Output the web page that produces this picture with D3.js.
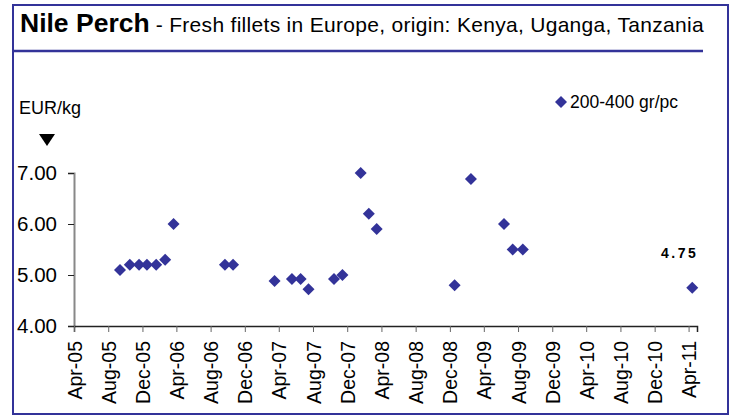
<!DOCTYPE html>
<html>
<head>
<meta charset="utf-8">
<script src="https://cdn.jsdelivr.net/npm/d3@7"></script>
<style>
  body { margin: 0; background: #fff; }
  svg { font-family: Arial, "Liberation Sans", sans-serif; }
</style>
</head>
<body>
<div id="chart"></div>
<script>
// price observations (EUR/kg), 200-400 gr/pc fillets
const obsDates = ["2005-09-12", "2005-10-17", "2005-11-19", "2005-12-17", "2006-01-19", "2006-02-20", "2006-03-22",
    "2006-09-21", "2006-10-20",
    "2007-03-17", "2007-05-18", "2007-06-18", "2007-07-16", "2007-10-15", "2007-11-14",
    "2008-01-18", "2008-02-16", "2008-03-15",
    "2008-12-18", "2009-02-14", "2009-06-12", "2009-07-13", "2009-08-18",
    "2011-04-14"]
const obsPrices = [5.10, 5.20, 5.20, 5.20, 5.20, 5.30, 6.00,
    5.20, 5.20,
    4.88, 4.92, 4.92, 4.72, 4.92, 5.00,
    7.00, 6.20, 5.90,
    4.80, 6.88, 6.00, 5.50, 5.50,
    4.75]
const xTickLabels = ["Apr-05", "Aug-05", "Dec-05", "Apr-06", "Aug-06", "Dec-06", "Apr-07", "Aug-07", "Dec-07",
    "Apr-08", "Aug-08", "Dec-08", "Apr-09", "Aug-09", "Dec-09", "Apr-10", "Aug-10", "Dec-10", "Apr-11"]
const yTicks = [4, 5, 6, 7]
const seriesName = "200-400 gr/pc"
const lastLabel = "4.75"

const width = 733
const height = 417
const frameColor = "#333399"
const pointColor = "#333399"

const parseDay = d3.timeParse("%Y-%m-%d")
const parseTick = d3.timeParse("%b-%y")

const svg = d3.select("#chart").append("svg")
    .attr("width", width)
    .attr("height", height)

//frame + title underline
svg.append("rect")
    .attr("x", 13).attr("y", 5)
    .attr("width", 715).attr("height", 409)
    .attr("fill", "none")
    .attr("stroke", frameColor)
    .attr("stroke-width", 2)
svg.append("line")
    .attr("x1", 13).attr("x2", 703)
    .attr("y1", 51).attr("y2", 51)
    .attr("stroke", frameColor)
    .attr("stroke-width", 2.5)

const title = svg.append("text")
    .attr("x", 20)
    .attr("y", 32)
    .attr("fill", "#000")
title.append("tspan")
    .style("font-weight", "bold")
    .style("font-size", "26.5px")
    .text("Nile Perch")
title.append("tspan")
    .style("font-size", "21px")
    .style("letter-spacing", "0.3px")
    .text(" - Fresh fillets in Europe, origin: Kenya, Uganga, Tanzania")

const x = d3.scaleTime()
    .domain([new Date(2005, 3, 1), new Date(2011, 4, 1)])
    .range([74, 697])
const y = d3.scaleLinear()
    .domain([4, 7])
    .range([326, 173])

// y axis
const yAxis = svg.append("g")
    .attr("transform", `translate(${74}, 0)`)
    .call(d3.axisLeft(y).tickValues(yTicks).tickSize(6).tickPadding(11).tickFormat(d3.format(".2f")))
yAxis.select(".domain").attr("stroke", "#888").attr("stroke-width", 2)
yAxis.selectAll(".tick line").attr("stroke", "#222")
yAxis.selectAll("text")
    .style("font-size", "20.5px")
    .attr("fill", "#000")

// x axis
const xAxis = svg.append("g")
    .attr("transform", `translate(0, ${326})`)
    .call(d3.axisBottom(x)
        .tickValues(xTickLabels.map(parseTick))
        .tickSize(6)
        .tickFormat(d3.timeFormat("%b-%y")))
xAxis.select(".domain").attr("stroke", "#222").attr("stroke-width", 1.5)
xAxis.selectAll(".tick line").attr("stroke", "#666")
xAxis.selectAll("text")
    .style("font-size", "19.5px")
    .attr("fill", "#000")
    .attr("text-anchor", "end")
    .attr("transform", "rotate(-90)")
    .attr("x", -15)
    .attr("y", 0)
    .attr("dy", "0.36em")

// unit label + arrow
svg.append("text")
    .attr("x", 19)
    .attr("y", 114)
    .style("font-size", "18px")
    .text("EUR/kg")
svg.append("path")
    .attr("d", "M39,134 L55,134 L47,146 Z")
    .attr("fill", "#000")

// diamonds
const diamond = d3.symbol().type(d3.symbolSquare).size(72)
svg.append("g")
    .selectAll("path")
    .data(obsDates.map((d, i) => ({ date: parseDay(d), price: obsPrices[i] })))
    .join("path")
    .attr("d", diamond)
    .attr("transform", d => `translate(${x(d.date)}, ${y(d.price)}) rotate(45)`)
    .attr("fill", pointColor)

// last value label
svg.append("text")
    .attr("x", 661)
    .attr("y", 258)
    .style("font-size", "14px")
    .style("font-weight", "bold")
    .style("letter-spacing", "2.5px")
    .text(lastLabel)

// legend
svg.append("path")
    .attr("d", diamond)
    .attr("transform", `translate(${561}, ${102}) rotate(45)`)
    .attr("fill", pointColor)
svg.append("text")
    .attr("x", 570)
    .attr("y", 108)
    .style("font-size", "17.5px")
    .text(seriesName)
</script>
</body>
</html>
